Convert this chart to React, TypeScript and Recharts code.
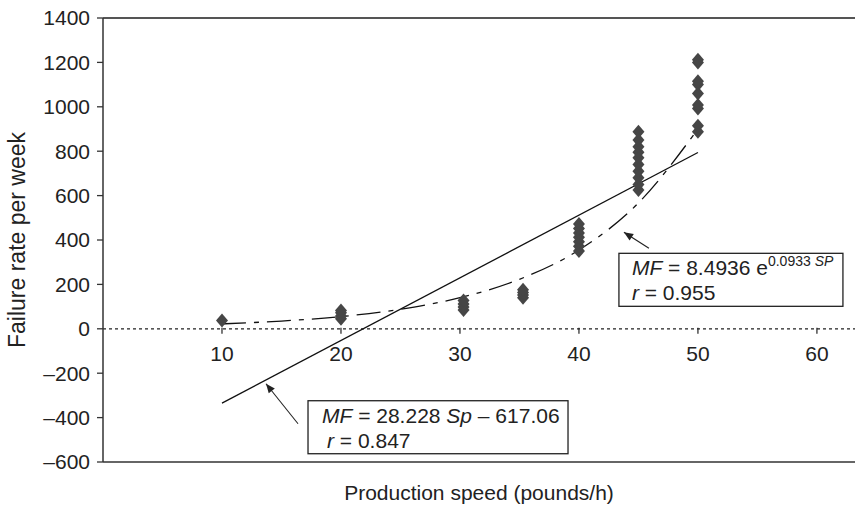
import { ComposedChart, XAxis, YAxis, Scatter, Line, ReferenceLine, ReferenceDot, Label } from "recharts";

const FONT = '"Liberation Sans", Arial, Helvetica, sans-serif';
const INK = "#222";

// observed failure rates per production speed
const speed10 = [37];
const speed20 = [45, 58, 72, 82];
const speed30 = [85, 98, 112, 128];
const speed35 = [140, 152, 164, 176];
const speed40 = [350, 372, 392, 412, 432, 452, 472];
const speed45 = [625, 650, 680, 710, 740, 770, 795, 820, 850, 888];
const speed50 = [888, 915, 992, 1008, 1060, 1100, 1115, 1200, 1212];

// trend lines
const linearX = [10, 50];
const linearY = [-335, 794];
const expX = [10, 15, 20, 25, 30, 35, 40, 45, 50];
const expY = [22, 35, 55, 88, 140, 223, 355, 567, 900];

const xTicks = [10, 20, 30, 40, 50, 60];
const yTicks = [-600, -400, -200, 0, 200, 400, 600, 800, 1000, 1200, 1400];

const groups: [number, number[]][] = [
  [10, speed10],
  [20, speed20],
  [30.3, speed30],
  [35.3, speed35],
  [40, speed40],
  [45, speed45],
  [50, speed50],
];
const points = groups.flatMap(([x, ys]) => ys.map((y) => ({ x, y })));
const linear = linearX.map((x, i) => ({ x, y: linearY[i] }));
const expo = expX.map((x, i) => ({ x, y: expY[i] }));

const Diamond = (p: any) => (
  <polygon
    points={`${p.cx},${p.cy - 7} ${p.cx + 6},${p.cy} ${p.cx},${p.cy + 7} ${p.cx - 6},${p.cy}`}
    fill="#464646"
  />
);

const Arrow = ({ x1, y1, x2, y2 }: { x1: number; y1: number; x2: number; y2: number }) => {
  const a = Math.atan2(y2 - y1, x2 - x1);
  const l = 10;
  const w = 0.4;
  const p1 = `${x2 - l * Math.cos(a - w)},${y2 - l * Math.sin(a - w)}`;
  const p2 = `${x2 - l * Math.cos(a + w)},${y2 - l * Math.sin(a + w)}`;
  return (
    <g>
      <line x1={x1} y1={y1} x2={x2} y2={y2} stroke={INK} strokeWidth={1.1} />
      <polygon points={`${x2},${y2} ${p1} ${p2}`} fill={INK} />
    </g>
  );
};

const XTick = (label: number) => (p: any) => (
  <g>
    <line x1={p.cx} x2={p.cx} y1={p.cy - 1} y2={p.cy + 5} stroke={INK} strokeWidth={1.2} />
    <text x={p.cx} y={p.cy + 32} textAnchor="middle" fontSize={21} fontFamily={FONT} fill={INK}>
      {label}
    </text>
  </g>
);

const LinearNote = (p: any) => (
  <g fontFamily={FONT} fontSize={21} fill={INK}>
    <rect x={p.cx} y={p.cy} width={260} height={53} fill="#fff" stroke={INK} strokeWidth={1.3} />
    <text x={p.cx + 14} y={p.cy + 22}>
      <tspan fontStyle="italic">MF</tspan> = 28.228 <tspan fontStyle="italic">Sp</tspan> – 617.06
    </text>
    <text x={p.cx + 19} y={p.cy + 47}>
      <tspan fontStyle="italic">r</tspan> = 0.847
    </text>
    <Arrow x1={p.cx - 10} y1={p.cy + 23} x2={p.cx - 42} y2={p.cy - 17} />
  </g>
);

const ExpNote = (p: any) => (
  <g fontFamily={FONT} fontSize={21} fill={INK}>
    <rect x={p.cx} y={p.cy} width={224} height={53} fill="#fff" stroke={INK} strokeWidth={1.3} />
    <text x={p.cx + 13} y={p.cy + 22}>
      <tspan fontStyle="italic">MF</tspan> = 8.4936 e
      <tspan fontSize={14} dy={-9}>0.0933 <tspan fontStyle="italic">SP</tspan></tspan>
    </text>
    <text x={p.cx + 13} y={p.cy + 47}>
      <tspan fontStyle="italic">r</tspan> = 0.955
    </text>
    <Arrow x1={p.cx + 30} y1={p.cy - 5} x2={p.cx + 5} y2={p.cy - 21} />
  </g>
);

export default function App() {
  return (
    <div style={{ position: "absolute", left: 0, top: 0, width: 855, height: 506, background: "#fff" }}>
      <ComposedChart width={855} height={506} margin={{ top: 18, right: 0, bottom: 0, left: 0 }}>
        <XAxis
          type="number"
          dataKey="x"
          domain={[0, 63.2]}
          ticks={xTicks}
          tick={false}
          tickLine={false}
          height={44}
          axisLine={{ stroke: "#333", strokeWidth: 1.5 }}
        >
          <Label
            value="Production speed (pounds/h)"
            position="insideBottom"
            offset={6}
            style={{ fontSize: 21, fontFamily: FONT, fill: INK }}
          />
        </XAxis>
        <YAxis
          type="number"
          dataKey="y"
          domain={[-600, 1400]}
          ticks={yTicks}
          width={103}
          interval={0}
          tickSize={6}
          tickMargin={7}
          tickFormatter={(v: number) => (v < 0 ? `–${Math.abs(v)}` : `${v}`)}
          tick={{ fontSize: 21, fontFamily: FONT, fill: INK }}
          tickLine={{ stroke: "#333", strokeWidth: 1.3 }}
          axisLine={{ stroke: "#333", strokeWidth: 1.5 }}
        >
          <Label
            content={(p: any) => {
              const vb = p.viewBox;
              const cx = vb.x + 25;
              const cy = vb.y + vb.height / 2;
              return (
                <text
                  x={cx}
                  y={cy}
                  transform={`rotate(-90, ${cx}, ${cy})`}
                  textAnchor="middle"
                  fontSize={23}
                  fontFamily={FONT}
                  fill={INK}
                >
                  Failure rate per week
                </text>
              );
            }}
          />
        </YAxis>
        <ReferenceLine y={1400} stroke="#555" strokeWidth={2} />
        <ReferenceLine y={0} stroke={INK} strokeWidth={1.2} strokeDasharray="3 3" />
        {xTicks.map((t) => (
          <ReferenceDot key={t} x={t} y={0} r={0} shape={XTick(t)} />
        ))}
        <Scatter data={points} shape={Diamond} isAnimationActive={false} />
        <Line
          data={linear}
          dataKey="y"
          type="linear"
          stroke="#111"
          strokeWidth={1.3}
          dot={false}
          isAnimationActive={false}
        />
        <Line
          data={expo}
          dataKey="y"
          type="monotone"
          stroke="#111"
          strokeWidth={1.3}
          strokeDasharray="24 8 5 8"
          dot={false}
          isAnimationActive={false}
        />
        <ReferenceDot x={17.23} y={-324} r={0} shape={LinearNote} />
        <ReferenceDot x={43.36} y={340} r={0} shape={ExpNote} />
      </ComposedChart>
    </div>
  );
}
